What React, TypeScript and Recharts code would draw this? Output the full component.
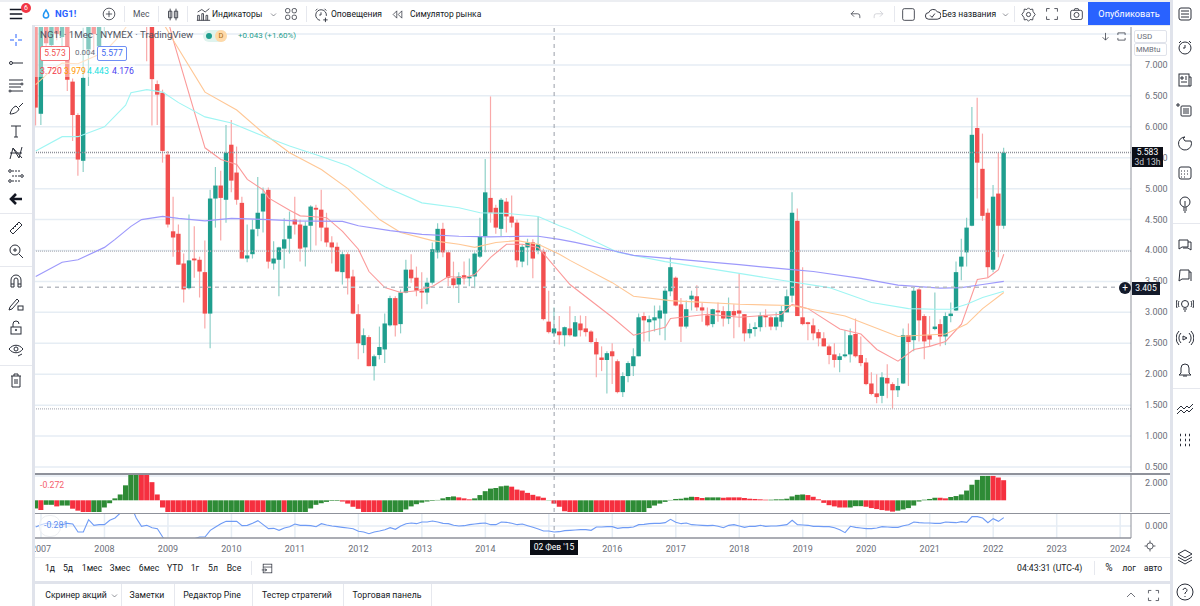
import React from 'react';
import {
  ComposedChart, Bar, Line, Cell, XAxis, YAxis, CartesianGrid, ReferenceLine,
} from 'recharts';

// month index 0 = Jan 2007, first row is Dec 2006
const FIRST_MONTH = -1;

// open, high, low, close
const candles: number[][] = [
  [7.75,7.9,6.02,6.31],
  // 2007
  [6.21,7.9,6.03,7.7],[7.7,7.8,7.25,7.35],[7.32,7.9,7.2,7.7],[7.7,7.8,7.4,7.5],[7.45,7.9,7.2,7.75],[7.75,7.9,6.58,6.76],
  [6.73,6.78,5.77,6.19],[6.19,6.22,5.21,5.47],[5.45,7.6,5.27,6.79],[7.25,7.9,6.66,7.8],[7.8,7.9,7.2,7.5],[7.3,7.9,7.15,7.8],
  // 2008
  [7.8,8.5,7.45,8.4],[8.4,9.3,7.9,9.1],[9.1,10.2,8.9,10],[10,11.1,9.6,10.8],[10.8,11.9,10.5,11.3],[11.3,13.6,11.2,13.3],
  [13.3,13.7,9,9.2],[9.2,9.6,7.9,8.4],[8.4,9.3,7.06,7.9],[7.9,8.2,6.02,6.77],[6.69,6.75,6.03,6.52],[6.55,6.6,5.42,5.61],
  // 2009
  [5.55,5.61,4.37,4.42],[4.31,4.87,3.9,4.21],[4.27,4.42,3.77,3.77],[3.79,3.95,3.16,3.37],[3.39,4.58,3.37,3.84],[3.87,4.39,3.56,3.84],
  [3.85,3.9,3.24,3.66],[3.65,4.16,2.74,2.98],[2.98,4.98,2.42,4.84],[4.84,5.35,4.37,5.05],[5.05,5.29,4.16,4.85],[4.82,6.03,4.45,5.58],
  // 2010
  [5.71,6.11,4.94,5.13],[5.26,5.68,4.74,4.82],[4.77,4.87,3.87,3.87],[3.87,4.42,3.81,3.92],[3.94,4.5,3.87,4.34],[4.35,5.19,4.23,4.61],
  [4.63,5.02,4.29,4.92],[4.98,5.02,3.71,3.82],[3.79,4.15,3.69,3.87],[3.85,4.06,3.26,4.05],[4.03,4.52,3.71,4.18],[4.19,4.63,3.95,4.4],
  // 2011
  [4.5,4.87,4.26,4.42],[4.42,4.5,3.82,4.03],[4.05,4.47,3.74,4.4],[4.4,4.73,3.98,4.71],[4.69,4.74,4.08,4.66],[4.66,4.98,4.15,4.37],
  [4.37,4.61,4.06,4.13],[4.13,4.23,3.79,4.05],[4.06,4.13,3.66,3.66],[3.65,3.98,3.45,3.94],[3.94,3.97,3.29,3.55],[3.58,3.69,2.97,2.98],
  // 2012
  [2.97,3.13,2.24,2.5],[2.47,2.74,2.34,2.63],[2.6,2.63,2.13,2.13],[2.13,2.32,1.9,2.29],[2.31,2.77,2.24,2.44],[2.4,2.98,2.18,2.82],
  [2.79,3.27,2.77,3.23],[3.23,3.26,2.61,2.79],[2.81,3.37,2.66,3.32],[3.32,3.85,3.31,3.69],[3.69,3.94,3.48,3.55],[3.56,3.74,3.26,3.35],
  // 2013
  [3.35,3.65,3.06,3.32],[3.32,3.56,3.13,3.48],[3.48,4.13,3.45,4.02],[3.97,4.44,3.87,4.35],[4.35,4.45,3.89,3.97],[3.97,3.98,3.42,3.56],
  [3.55,3.82,3.39,3.44],[3.45,3.65,3.15,3.58],[3.6,3.82,3.45,3.55],[3.55,3.87,3.42,3.58],[3.58,3.97,3.39,3.95],[3.9,4.53,3.88,4.23],
  // 2014
  [4.23,5.48,3.97,4.94],[4.85,6.49,4.45,4.61],[4.69,4.74,4.27,4.37],[4.35,4.85,4.23,4.82],[4.79,4.85,4.29,4.55],[4.55,4.89,4.37,4.45],
  [4.45,4.5,3.73,3.84],[3.82,4.1,3.73,4.06],[4.05,4.19,3.76,4.13],[4.13,4.18,3.55,3.87],[4,4.55,3.94,4.1],[3.98,4.03,2.87,2.89],
  // 2015
  [2.85,3.35,2.66,2.68],[2.66,3.08,2.6,2.74],[2.69,2.94,2.48,2.63],[2.63,2.77,2.45,2.76],[2.74,3.1,2.61,2.63],[2.61,2.94,2.6,2.84],
  [2.82,2.95,2.61,2.71],[2.74,2.94,2.61,2.68],[2.69,2.71,2.5,2.52],[2.52,2.58,1.95,2.32],[2.27,2.45,2.05,2.23],[2.23,2.37,1.69,2.34],
  // 2016
  [2.37,2.5,1.84,2.29],[2.21,2.24,1.69,1.71],[1.71,2.03,1.63,1.97],[1.97,2.21,1.87,2.18],[2.13,2.42,1.97,2.29],[2.29,2.98,2.29,2.92],
  [2.94,3,2.53,2.87],[2.84,2.95,2.53,2.89],[2.87,3.11,2.69,2.92],[2.9,3.11,2.63,3.03],[2.98,3.39,2.55,3.35],[3.34,3.9,3.26,3.73],
  // 2017
  [3.56,3.58,3.1,3.11],[3.13,3.23,2.52,2.77],[2.77,3.19,2.74,3.05],[3.21,3.35,3.03,3.27],[3.26,3.44,3.02,3.08],[3.08,3.15,2.85,3.03],
  [2.95,3.08,2.77,2.79],[2.81,3.06,2.76,3.05],[3.03,3.16,2.85,3],[3.02,3.1,2.77,2.9],[2.9,3.24,2.81,3.02],[3.02,3.13,2.58,2.95],
  // 2018
  [3.03,3.63,2.76,2.98],[2.97,2.97,2.53,2.66],[2.66,2.82,2.58,2.73],[2.73,2.84,2.61,2.76],[2.76,3,2.69,2.95],[2.95,3.05,2.76,2.92],
  [2.92,2.94,2.71,2.77],[2.77,3,2.71,2.92],[2.85,3.11,2.76,3.02],[3,3.37,3,3.26],[3.27,4.94,3.16,4.61],[4.48,4.68,2.94,2.94],
  // 2019
  [2.92,3.73,2.79,2.81],[2.84,2.85,2.55,2.81],[2.79,2.9,2.55,2.66],[2.68,2.73,2.45,2.58],[2.58,2.68,2.45,2.45],[2.45,2.48,2.16,2.31],
  [2.32,2.5,2.11,2.23],[2.23,2.34,2.03,2.29],[2.29,2.71,2.27,2.32],[2.32,2.74,2.19,2.63],[2.65,2.9,2.27,2.29],[2.31,2.61,2.13,2.18],
  // 2020
  [2.19,2.26,1.82,1.84],[1.85,2.03,1.66,1.68],[1.69,2,1.53,1.63],[1.65,2.03,1.53,1.95],[1.94,2.16,1.61,1.85],[1.84,1.87,1.44,1.74],
  [1.74,1.94,1.63,1.81],[1.85,2.74,1.84,2.63],[2.63,2.82,1.81,2.52],[2.55,3.4,2.37,3.35],[3.37,3.39,2.53,2.87],[2.94,2.97,2.24,2.53],
  // 2021
  [2.63,2.94,2.44,2.56],[2.73,3.32,2.71,2.77],[2.81,2.89,2.45,2.61],[2.61,3,2.47,2.94],[2.94,3.16,2.84,2.98],[3.03,3.82,3.02,3.65],
  [3.74,4.19,3.52,3.9],[3.97,4.53,3.74,4.37],[4.4,6.32,4.39,5.87],[5.98,6.47,4.84,5.42],[5.32,5.89,4.48,4.56],[4.61,4.68,3.56,3.73],
  // 2022
  [3.69,5.06,3.65,4.87],[4.92,5.58,3.89,4.4],[4.4,5.66,4.35,5.58],
];

const histValues = [
  -0.67,-0.8,-0.37,-0.37,-0.5,-0.43,-0.43,-0.69,-0.85,-1.2,-1.1,-1.05,-1.05,
  -0.59,-0.24,0.16,0.48,1.23,2.08,2.4,2.5,2.4,1.49,0.48,-0.59,
  -1.1,-1.3,-1.5,-1.6,-1.7,-1.7,-1.6,-1.5,-1.5,-1.4,-1.3,-1.2,
  -1.15,-1.1,-1.1,-1.2,-1.3,-1.3,-1.25,-1.2,-1.2,-1.15,-1.15,-1.1,
  -1.05,-1,-0.97,-0.67,-0.37,-0.24,-0.13,-0.05,-0.05,-0.1,-0.27,-0.53,
  -0.7,-1,-1.1,-1.1,-1.1,-1.1,-1.1,-1.05,-1,-0.75,-0.5,-0.32,
  -0.19,-0.1,-0.05,0.03,0.16,0.27,0.32,0.24,0.16,0.08,0.16,0.43,
  0.75,0.96,1.01,1.15,1.2,1.12,0.88,0.8,0.61,0.45,0.32,0.21,
  0.02,-0.27,-0.53,-0.9,-1,-1.05,-1.05,-1.05,-1.05,-1.05,-1.05,-1.05,
  -1.05,-1.05,-1.05,-1.05,-1.05,-1.05,-1,-0.64,-0.43,-0.27,-0.13,0.03,
  0.11,0.13,0.21,0.29,0.27,0.19,0.24,0.24,0.24,0.21,0.24,0.24,
  0.24,0.19,0.13,0.11,0.08,0.05,0.05,0.08,0.08,0.13,0.32,0.45,
  0.48,0.43,0.29,0.08,-0.21,-0.4,-0.5,-0.59,-0.59,-0.59,-0.48,-0.48,
  -0.53,-0.64,-0.72,-0.8,-0.85,-0.93,-0.85,-0.75,-0.64,-0.43,-0.1,0.05,
  0.11,0.21,0.21,0.16,0.27,0.35,0.48,0.8,1.28,1.68,2,2,
  2,1.87,1.65,
];

// green / red runs of the histogram: [isGreen, months]
const histRuns: [boolean, number][] = [
  [true,1],[false,1],[true,2],[false,1],[true,2],[false,4],[true,9],[false,5],[false,8],[true,7],[false,4],[true,3],[false,1],
  [true,10],[false,8],[true,14],[false,3],[true,7],[false,7],[true,1],[false,5],[true,3],[false,6],[true,13],[false,2],[true,3],
  [false,9],[true,7],[false,8],[true,3],[false,6],[true,8],[false,2],[true,8],[false,3],
];

const momentum = [
  -0.03,0.04,0.08,0.06,0.04,0.04,0.08,0.06,-0.18,-0.18,0.19,0.02,0.04,
  0.04,0.17,0.24,0.39,0.62,0.62,0.24,-0.01,0.02,-0.05,-0.08,-0.33,
  -0.53,-0.6,-0.7,-0.72,-0.6,-0.38,-0.33,-0.33,-0.13,-0.03,0.07,0.14,
  0.14,0.14,0.01,0.02,0.08,0.16,0.04,-0.08,-0.07,-0.13,-0.06,-0.02,
  0.06,0.02,0.02,0.01,-0.02,0.07,0.03,0,-0.02,-0.04,-0.06,-0.08,
  -0.16,-0.18,-0.23,-0.18,-0.15,-0.11,-0.05,-0.1,0,0.07,0.09,0.07,
  0.12,0.12,0.15,0.12,0.08,0.07,0.02,0,0.01,0.04,0.06,0.08,
  0.09,0.04,0.04,0.12,0.11,0.08,0.04,0.06,0.01,-0.04,-0.09,-0.15,
  -0.15,-0.18,-0.17,-0.14,-0.13,-0.12,-0.11,-0.11,-0.13,-0.03,-0.03,-0.02,
  -0.02,-0.07,-0.05,-0.05,-0.03,0.04,0.05,0.07,0.08,0.08,0.1,0.2,
  0.11,0.07,0.09,0.04,0.03,0.02,0.01,0.02,-0.01,-0.05,0.02,0.04,
  0,-0.04,-0.01,-0.01,0.02,-0.01,0,0,0.02,0.04,0.17,0.04,
  0.03,0.02,-0.01,-0.01,-0.02,-0.02,-0.05,-0.11,-0.2,-0.01,-0.04,-0.06,
  -0.08,-0.08,-0.06,-0.02,-0.03,-0.04,-0.04,0.01,0.04,0.12,0.1,0.09,
  0.09,0.08,0.08,0.12,0.11,0.1,0.13,0.11,0.28,0.28,0.24,0.1,
  0.22,0.14,0.25,
];

const maRed = [[22,8.37],[25,7.4],[31,5.66],[34,5.47],[37,5.39],[39,5.15],[42,4.98],[43,4.85],[47,4.65],[49,4.56],[51,4.55],[54,4.53],[57,4.31],[60,4.02],[62,3.66],[65,3.4],[68,3.32],[71,3.35],[74,3.42],[77,3.58],[80,3.56],[82,3.61],[85,3.89],[88,4.1],[91,4.1],[94,4.05],[100,3.45],[108,2.92],[112,2.63],[118,2.76],[119,2.9],[126,2.97],[132,2.92],[140,2.97],[142,3.13],[145,3.06],[151,2.73],[155,2.65],[158,2.4],[162,2.21],[165,2.4],[168,2.45],[171,2.53],[174,2.81],[177,3.53],[179,3.56],[181,3.69],[182,3.94]];
const maOrange = [[-1,6.68],[2,6.92],[4,7.03],[7,7.02],[12,7.21],[15,7.48],[17,7.73],[21,7.97],[23,7.69],[25,7.4],[31,6.56],[37,6.27],[42,5.9],[47,5.58],[53,5.31],[58,5],[64,4.5],[68,4.29],[74,4.16],[79,4.1],[82,4.05],[86,4.13],[90,4.16],[94,4.1],[98,3.94],[100,3.84],[108,3.48],[112,3.26],[119,3.19],[132,3.13],[142,3.11],[152,2.94],[162,2.61],[171,2.65],[175,2.81],[178,3.06],[182,3.32]];
const maCyan = [[-1,5.61],[4,5.84],[7,5.84],[12,6],[16,6.35],[17,6.55],[20,6.6],[23,6.56],[26,6.39],[31,6.16],[36,6.06],[42,5.85],[47,5.69],[53,5.52],[58,5.37],[65,5.03],[72,4.77],[79,4.69],[83,4.61],[88,4.6],[94,4.55],[98,4.4],[100,4.34],[109,3.97],[118,3.82],[132,3.63],[140,3.52],[149,3.4],[157,3.16],[164,3.06],[169,3.05],[172,3.05],[175,3.13],[178,3.24],[182,3.34]];
const maBlue = [[-1,3.58],[4,3.81],[7,3.85],[12,4.05],[14,4.18],[17,4.39],[19,4.5],[23,4.55],[26,4.52],[31,4.48],[36,4.52],[43,4.5],[48,4.48],[57,4.47],[60,4.4],[66,4.32],[72,4.26],[79,4.23],[85,4.22],[91,4.23],[94,4.23],[98,4.18],[101,4.13],[108,4],[112,3.92],[119,3.87],[132,3.77],[142,3.69],[146,3.66],[155,3.55],[162,3.44],[170,3.39],[174,3.4],[178,3.45],[182,3.5]];

const priceTicks = [0.5,1,1.5,2,2.5,3,3.5,4,4.5,5,5.5,6,6.5,7,7.5];
const priceLabels = [0.5,1,1.5,2,2.5,3,3.5,4,4.5,5,5.5,6,6.5,7];
const yearTicks = [0,12,24,36,48,60,72,84,96,108,120,132,144,156,168,180,192,204];
const yearLabels = ['2007','2008','2009','2010','2011','2012','2013','2014','2015','2016','2017','2018','2019','2020','2021','2022','2023','2024'];
const histTicks = [0, 2];
const momentumTicks = [0];

const CROSS_MONTH = 97;
const CROSS_PRICE = 3.405;
const LAST_PRICE = 5.585;
const LEVEL_HIGH = 3.99;
const LEVEL_LOW = 1.44;

const topTools = [
  { text: 'Мес', left: 133, color: '#50535e' },
  { text: 'Индикаторы', left: 212, color: '#131722' },
  { text: 'Оповещения', left: 331, color: '#131722' },
  { text: 'Симулятор рынка', left: 410, color: '#131722' },
  { text: 'Без названия', left: 942, color: '#131722' },
];
const rangeButtons = [['1д',50],['5д',68],['1мес',92],['3мес',120],['6мес',149],['YTD',175],['1г',195],['5л',213],['Все',234]] as [string, number][];
const bottomTabs = [['Скринер акций',76],['Заметки',147],['Редактор Pine',212],['Тестер стратегий',297],['Торговая панель',387]] as [string, number][];
const tabDividers = [121,174,252,343,431];

const histGreen: boolean[] = histRuns.flatMap(([g, n]) => Array(n).fill(g));

const maLookup = (points: number[][]) => new Map(points.map(([m, v]) => [m, v]));
const redMap = maLookup(maRed);
const orangeMap = maLookup(maOrange);
const cyanMap = maLookup(maCyan);
const blueMap = maLookup(maBlue);

const rows = candles.map(([open, high, low, close], idx) => {
  const month = idx + FIRST_MONTH;
  return {
    month, open, high, low, close,
    range: [low, high],
    hist: histValues[idx],
    mom: momentum[idx],
    red: redMap.get(month) ?? null,
    orange: orangeMap.get(month) ?? null,
    cyan: cyanMap.get(month) ?? null,
    blue: blueMap.get(month) ?? null,
  };
});

const FONT = 'Roboto, sans-serif';
const AXIS_COLOR = '#6a6d78';
const GRID = '#e6edf4';
const SEP = '#8f929b';
const UP = '#1f9e8e';
const DOWN = '#f24f4f';
const X_DOMAIN: [number, number] = [-1.134, 206.05];
const PANE_WIDTH = 1135;
const AXIS_WIDTH = 39;
const UI_SIZE = 8.7;
const tickStyle = { fontSize: 9, fill: AXIS_COLOR, fontFamily: FONT };

const Candle = (props: any) => {
  const { x, y, width, height, payload } = props;
  if (!payload || height == null) return null;
  const { open, high, low, close } = payload;
  const perUnit = height / (high - low);
  const cx = x + width / 2;
  const up = close >= open;
  const bodyTop = y + (high - Math.max(open, close)) * perUnit;
  const bodyH = Math.max(Math.abs(open - close) * perUnit, 1.5);
  return (
    <g>
      <line x1={cx} x2={cx} y1={y} y2={y + height} stroke={up ? '#8ed0c8' : '#f9a9a9'} strokeWidth={1.2} />
      <rect x={cx - 2.2} y={bodyTop} width={4.4} height={bodyH} fill={up ? UP : DOWN} />
    </g>
  );
};

const Label = ({ left, top, color = '#131722', size = UI_SIZE, bold = false, center = false, children }: any) => (
  <div style={{
    position: 'absolute', left, top, color, fontSize: size, fontWeight: bold ? 700 : 400, whiteSpace: 'nowrap',
    lineHeight: '14px', transform: center ? 'translateX(-50%)' : undefined,
  }}>{children}</div>
);

// small outline icon centred on x, y
const Icon = ({ x, y, size = 18, color = '#2a2e39', sw = 1, children }: any) => (
  <svg width={size} height={size} viewBox="0 0 18 18" fill="none" stroke={color} strokeWidth={sw}
    style={{ position: 'absolute', left: x - size / 2, top: y - size / 2 }}>
    {children}
  </svg>
);

const leftIcons: [number, React.ReactNode, string?][] = [
  [40, <path d="M9 3v4M9 11v4M3 9h4M11 9h4" />, '#2962ff'],
  [63, <><circle cx="4" cy="9" r="1.5" /><path d="M5.5 9H16" /></>],
  [85, <><path d="M2 4h14M2 8h12M2 11h12M4 15h12" /><circle cx="15" cy="8" r="1" /><circle cx="3" cy="15" r="1" /></>],
  [108, <path d="M3 15c1-4 3-7 6-8l3 3c-1 3-5 5-9 5zM12 8l4-4" />],
  [131, <path d="M4 4h10M9 4v11M7 15h4" />],
  [153, <path d="M3 15L6 4l6 10 3-11M3 15h0M6 4l9 10M3 9h12" />],
  [176, <><path d="M5 4h9M5 9h9M5 14h9" strokeDasharray="2 1" /><circle cx="3" cy="4" r="1.3" /><circle cx="15" cy="9" r="1.3" /><circle cx="3" cy="14" r="1.3" /></>],
  [199, <path d="M15 9H5M9 4L4 9l5 5" strokeWidth="2.6" stroke="#131722" />],
  [228, <path d="M3 12L12 3l3 3-9 9zM6 9l1 1M8 7l1 1M10 5l1 1" />],
  [251, <><circle cx="8" cy="8" r="5" /><path d="M12 12l4 4M6 8h4M8 6v4" /></>],
  [281, <path d="M4 15V8a5 5 0 0 1 10 0v7h-3V8a2 2 0 0 0-4 0v7zM4 12h3M11 12h3" />],
  [304, <><path d="M3 12l7-8 2 2-7 8-3 1z" /><rect x="11" y="11" width="5" height="4" /></>],
  [327, <><rect x="4" y="9" width="10" height="7" /><path d="M6 9V6a3 3 0 0 1 6 0" /><circle cx="9" cy="12" r="0.7" /></>],
  [350, <><path d="M2 8c4-5 10-5 14 0-4 5-10 5-14 0z" /><circle cx="9" cy="8" r="2" /><path d="M11 15l4-2" /></>],
  [380, <path d="M4 5h10M7 5V3h4v2M5 5v11h8V5M8 8v5M10 8v5" />],
];

const rightIcons: [number, React.ReactNode][] = [
  [14, <><rect x="3" y="3" width="12" height="12" rx="2" /><path d="M5 6h8M5 9h8M5 12h8" /></>],
  [47, <><circle cx="9" cy="10" r="6" /><path d="M9 7v3h-2M3 5l2-2M15 5l-2-2" /></>],
  [80, <><rect x="3" y="3" width="10" height="12" /><path d="M5 6h2v2H5zM9 6h2M9 8h2M5 11h6M13 6h2v9h-2" /></>],
  [110, <><rect x="5" y="5" width="10" height="10" rx="1" /><path d="M7 8h6M7 10h6M7 12h6M2 2v4M0 4h4" /></>],
  [143, <path d="M9 3a6.5 6.5 0 1 0 6 4h-6l-2-3z" />],
  [173, <><rect x="3" y="3" width="12" height="12" rx="2" /><path d="M5 7h1M8 7h1M11 7h1M5 10h1M8 10h1M11 10h1M5 13h1M8 13h1" /></>],
  [204, <><circle cx="9" cy="7" r="5" /><path d="M7 13h4M7 15h4M8 17h2M9 6v5" /></>],
  [244, <path d="M3 5h9v7H6l-3 2zM12 7h3v8l-3-2H7" />],
  [275, <path d="M4 4h9v9H6l-3 2zM13 6h2v9" />],
  [306, <><circle cx="9" cy="7" r="3.5" /><path d="M7 12h4M8 14h2M3 4c-1 2-1 4 0 6M15 4c1 2 1 4 0 6M1 3c-1 3-1 5 0 8M17 3c1 3 1 5 0 8" /></>],
  [338, <><path d="M7 7l4 2-4 2zM5 4a7 7 0 0 0 0 10M13 4a7 7 0 0 1 0 10M3 2a10 10 0 0 0 0 14M15 2a10 10 0 0 1 0 14" /></>],
  [370, <path d="M9 3a4 4 0 0 0-4 4v5l-2 2h12l-2-2V7a4 4 0 0 0-4-4zM7 15h4" />],
  [408, <path d="M1 11l4-4 3 3 3-3 2 2 4-4M1 15l4-4 3 3 3-3 2 2 4-4" />],
  [440, <path d="M4 4h1M9 4h1M13 4h1M4 9h1M9 9h1M13 9h1M9 14h1M13 14h1M4 14h1" strokeWidth="2.4" />],
  [557, <path d="M9 2l7 4-7 4-7-4zM2 9l7 4 7-4M2 12l7 4 7-4" />],
  [592, <><circle cx="9" cy="9" r="8" /><path d="M7 7a2 2 0 1 1 3 2l-1 1v1M9 13v1" /></>],
];

const App = () => (
  <div style={{ position: 'absolute', left: 0, top: 0, width: 1200, height: 606, overflow: 'hidden', background: '#fff', fontFamily: FONT }}>
    {/* price pane */}
    <div style={{ position: 'absolute', left: 35, top: 27 }}>
      <ComposedChart width={PANE_WIDTH} height={446} data={rows} margin={{ top: 0, right: 0, bottom: 0, left: 0 }} barCategoryGap={0}>
        <CartesianGrid stroke={GRID} strokeWidth={1.5} verticalValues={yearTicks} horizontalValues={priceTicks} />
        <XAxis dataKey="month" type="number" domain={X_DOMAIN} allowDataOverflow ticks={yearTicks} height={1} tick={false} axisLine={false} tickLine={false} />
        <YAxis orientation="right" width={AXIS_WIDTH} domain={[0.419, 7.613]} allowDataOverflow ticks={priceTicks} interval={0}
          tick={(p: any) => priceLabels.includes(p.payload.value)
            ? <text x={p.x + 6} y={p.y + 3} {...tickStyle}>{p.payload.value.toFixed(3)}</text>
            : <g />}
          tickLine={false} axisLine={{ stroke: SEP }} />
        <ReferenceLine y={LAST_PRICE} stroke="#8d9099" strokeWidth={1.5} strokeDasharray="1 1" />
        <ReferenceLine y={LEVEL_HIGH} stroke="#b0b3bb" strokeWidth={1.2} strokeDasharray="1 1" />
        <ReferenceLine y={LEVEL_LOW} stroke="#b0b3bb" strokeWidth={1.2} strokeDasharray="1 1" />
        <Bar dataKey="range" barSize={5} shape={<Candle />} isAnimationActive={false} />
        <Line dataKey="red" stroke="#fb9a9a" strokeWidth={1.1} dot={false} connectNulls isAnimationActive={false} />
        <Line dataKey="orange" stroke="#ffc795" strokeWidth={1.1} dot={false} connectNulls isAnimationActive={false} />
        <Line dataKey="cyan" stroke="#9ff5f3" strokeWidth={1.1} dot={false} connectNulls isAnimationActive={false} />
        <Line dataKey="blue" stroke="#9d99fb" strokeWidth={1.2} dot={false} connectNulls isAnimationActive={false} />
        <ReferenceLine y={CROSS_PRICE} stroke="#b8bbc2" strokeWidth={1.5} strokeDasharray="4 4" />
        <ReferenceLine x={CROSS_MONTH} stroke="#9a9ea8" strokeDasharray="4 4" />
      </ComposedChart>
    </div>

    {/* histogram pane */}
    <div style={{ position: 'absolute', left: 35, top: 474 }}>
      <ComposedChart width={PANE_WIDTH} height={39} data={rows} margin={{ top: 0, right: 0, bottom: 0, left: 0 }}>
        <CartesianGrid stroke={GRID} strokeWidth={1.5} verticalValues={yearTicks} horizontalValues={histTicks} />
        <XAxis dataKey="month" type="number" domain={X_DOMAIN} allowDataOverflow ticks={yearTicks} height={1} tick={false} axisLine={false} tickLine={false} />
        <YAxis orientation="right" width={AXIS_WIDTH} domain={[-0.96, 2.16]} allowDataOverflow ticks={histTicks}
          tick={(p: any) => <text x={p.x + 6} y={p.y + 3} {...tickStyle}>{p.payload.value.toFixed(3)}</text>}
          tickLine={false} axisLine={{ stroke: SEP }} />
        <Bar dataKey="hist" barSize={5} isAnimationActive={false}>
          {rows.map((r, i) => <Cell key={r.month} fill={histGreen[i] ? '#2e8b36' : '#f5303f'} />)}
        </Bar>
        <ReferenceLine x={CROSS_MONTH} stroke="#9a9ea8" strokeDasharray="4 4" />
      </ComposedChart>
    </div>

    {/* momentum pane and time axis */}
    <div style={{ position: 'absolute', left: 35, top: 514 }}>
      <ComposedChart width={PANE_WIDTH} height={43} data={rows} margin={{ top: 0, right: 0, bottom: 0, left: 0 }}>
        <CartesianGrid stroke={GRID} strokeWidth={1.5} verticalValues={yearTicks} horizontalValues={momentumTicks} />
        <XAxis dataKey="month" type="number" domain={X_DOMAIN} allowDataOverflow ticks={yearTicks} interval={0} height={19}
          tickFormatter={(m: number) => yearLabels[yearTicks.indexOf(m)]} tick={tickStyle} tickMargin={2} tickLine={false} axisLine={{ stroke: SEP, strokeWidth: 1.5 }} />
        <YAxis orientation="right" width={AXIS_WIDTH} domain={[-0.36, 0.36]} allowDataOverflow ticks={momentumTicks}
          tick={(p: any) => <text x={p.x + 6} y={p.y + 3} {...tickStyle}>{p.payload.value.toFixed(3)}</text>}
          tickLine={false} axisLine={{ stroke: SEP }} />
        <Line dataKey="mom" stroke="#6f9bf5" strokeWidth={1.1} dot={false} isAnimationActive={false} />
        <ReferenceLine x={CROSS_MONTH} stroke="#9a9ea8" strokeDasharray="4 4" />
      </ComposedChart>
    </div>

    {/* pane separators */}
    <div style={{ position: 'absolute', left: 35, top: 473, width: 1135, height: 1.5, background: SEP }} />
    <div style={{ position: 'absolute', left: 35, top: 512.5, width: 1135, height: 1.5, background: SEP }} />

    {/* chart legend */}
    <div style={{ position: 'absolute', left: 35, top: 27, width: 100, height: 50, background: 'rgba(255,255,255,0.45)' }} />
    <Label left={40} top={28} color="#50535e" size={9.7}>NG1! · 1Мес · NYMEX · TradingView</Label>
    <div style={{ position: 'absolute', left: 203, top: 30, width: 24, height: 12, borderRadius: 6, background: '#dff3ee' }} />
    <div style={{ position: 'absolute', left: 206, top: 33, width: 6, height: 6, borderRadius: 3, background: '#1f9e8e' }} />
    <div style={{ position: 'absolute', left: 215, top: 30, width: 12, height: 12, borderRadius: 6, background: '#ffd9a8' }} />
    <Label left={218.500} top={29} color="#a86a10" size={7.5}>D</Label>
    <Label left={238} top={29} color="#1f9e8e" size={8}>+0.043 (+1.60%)</Label>
    <div style={{ position: 'absolute', left: 40, top: 46, width: 28, height: 13, border: '1px solid #f2727a', borderRadius: 2, background: '#fff', color: '#f24f4f', fontSize: 8.5, lineHeight: '13px', textAlign: 'center' }}>5.573</div>
    <Label left={75} top={46} color="#6a6d78" size={8}>0.004</Label>
    <div style={{ position: 'absolute', left: 97, top: 46, width: 28, height: 13, border: '1px solid #6f8ff5', borderRadius: 2, background: '#fff', color: '#3d66f0', fontSize: 8.5, lineHeight: '13px', textAlign: 'center' }}>5.577</div>
    <Label left={40} top={64} color="#f23645" size={8.7}>3.720</Label>
    <Label left={64} top={64} color="#ff9800" size={8.7}>3.979</Label>
    <Label left={87} top={64} color="#20e0e0" size={8.7}>4.443</Label>
    <Label left={112} top={64} color="#4a3df0" size={8.7}>4.176</Label>
    <Label left={40} top={478} color="#f5606c" size={8.7}>-0.272</Label>
    <div style={{ position: 'absolute', left: 39, top: 515, width: 20, height: 20, borderRadius: 10, border: '1px solid #eceef2', background: 'rgba(255,255,255,0.6)' }} />
    <Label left={44} top={518} color="#5b8def" size={8.7}>-0.281</Label>

    {/* price labels */}
    <div style={{ position: 'absolute', left: 1132, top: 147, width: 31, height: 20, background: '#0b0e16', color: '#fff', fontSize: 8.5, lineHeight: '10px', textAlign: 'center' }}>5.583<br /><span style={{ color: '#c8cad0' }}>3d 13h</span></div>
    <div style={{ position: 'absolute', left: 1132, top: 282, width: 28, height: 13, background: '#131a2a', color: '#fff', fontSize: 8.5, lineHeight: '13px', textAlign: 'center' }}>3.405</div>
    <div style={{ position: 'absolute', left: 1119, top: 282, width: 12, height: 12, borderRadius: 6, background: '#131a2a', color: '#fff', fontSize: 10, lineHeight: '12px', textAlign: 'center' }}>+</div>
    <div style={{ position: 'absolute', left: 530, top: 540, width: 48, height: 15, background: '#0b0e16', color: '#fff', fontSize: 8.5, lineHeight: '15px', textAlign: 'center' }}>02 Фев '15</div>
    <div style={{ position: 'absolute', left: 1134, top: 30, width: 29, height: 11, border: '1px solid #e0e3eb', borderRadius: 2, color: '#6a6d78', fontSize: 8, lineHeight: '11px', paddingLeft: 2, background: '#fff' }}>USD</div>
    <div style={{ position: 'absolute', left: 1134, top: 43, width: 30, height: 11, border: '1px solid #e0e3eb', borderRadius: 2, color: '#6a6d78', fontSize: 7.5, lineHeight: '11px', paddingLeft: 1, background: '#fff' }}>MMBtu</div>
    <Icon x={1105} y={36} size={13}><path d="M9 4v10M5 10l4 4 4-4" /></Icon>
    <Icon x={1121} y={36} size={13}><path d="M4 7V4h10v3M4 11v3h10v-3" /></Icon>
    <Icon x={1150} y={546} size={14}><circle cx="9" cy="9" r="4" /><path d="M9 2v3M9 13v3M2 9h3M13 9h3" /></Icon>

    {/* top toolbar */}
    <div style={{ position: 'absolute', left: 0, top: 0, width: 1200, height: 2, background: '#eceef2' }} />
    <div style={{ position: 'absolute', left: 0, top: 2, width: 1170, height: 23, background: '#fff', borderBottom: '1px solid #e6e8ee' }} />
    <Icon x={16} y={14} size={16} color="#131722" sw={1.6}><path d="M2 4h14M2 9h14M2 14h14" /></Icon>
    <div style={{ position: 'absolute', left: 21, top: 3, width: 10, height: 10, borderRadius: 5, background: '#f23645', color: '#fff', fontSize: 7, lineHeight: '10px', textAlign: 'center' }}>6</div>
    <Icon x={46} y={14} size={12} color="#2196f3" sw={2.2}><path d="M9 3c3 4 4 6 4 8a4 4 0 0 1-8 0c0-2 1-4 4-8z" /></Icon>
    <Label left={55} top={7} color="#2962ff" size={9.5} bold>NG1!</Label>
    <Icon x={109} y={14} size={14}><circle cx="9" cy="9" r="7.5" /><path d="M9 5v8M5 9h8" /></Icon>
    {[124, 158, 187, 306, 894, 1014].map(x => <div key={x} style={{ position: 'absolute', left: x, top: 6, width: 1, height: 16, background: '#e6e8ee' }} />)}
    {topTools.map(t => <Label key={t.text} left={t.left} top={7} color={t.color} size={8.5}>{t.text}</Label>)}
    <Icon x={173} y={14} size={15}><path d="M5 2v14M5 5h2v8H3V5zM12 2v14M10 5h4v8h-4z" /></Icon>
    <Icon x={203} y={14} size={15}><path d="M2 16V10h2v6M7 16V8h2v8M12 16V10h2v6M1 16h16M2 6l5-3 4 3 5-4" /></Icon>
    <Icon x={273} y={14} size={9}><path d="M4 7l5 5 5-5" /></Icon>
    <Icon x={291} y={14} size={14}><rect x="2" y="2" width="5.5" height="5.5" rx="2" /><rect x="10.5" y="2" width="5.5" height="5.5" rx="2" /><rect x="2" y="10.5" width="5.5" height="5.5" rx="2" /><rect x="10.5" y="10.5" width="5.5" height="5.5" rx="2" /></Icon>
    <Icon x={321} y={15} size={16}><path d="M8 15a6 6 0 1 1 7-5M9 6v3h-2M3 4l2-2M15 4l-2-2M14 12v5M11.500 14.500h5" /></Icon>
    <Icon x={397} y={14} size={13}><path d="M8 4L3 9l5 5zM15 4l-5 5 5 5z" /></Icon>
    <Icon x={855} y={14} size={13}><path d="M7 4L3 8l4 4M3 8h9a3 3 0 0 1 3 3v3" /></Icon>
    <Icon x={878} y={14} size={13} color="#c4c6cd"><path d="M11 4l4 4-4 4M15 8H6a3 3 0 0 0-3 3v3" /></Icon>
    <Icon x={908} y={14} size={15}><rect x="2" y="2" width="14" height="14" rx="2" /></Icon>
    <Icon x={932} y={14} size={17}><path d="M5 14a3.500 3.500 0 0 1 0-7 5 5 0 0 1 9-1 4 4 0 0 1 0 8zM6.500 10l2 2 3-4" /></Icon>
    <Icon x={1005} y={14} size={9}><path d="M4 7l5 5 5-5" /></Icon>
    <Icon x={1028} y={14} size={15}><circle cx="9" cy="9" r="2.500" /><path d="M9 1l2 2 3-.5.500 3L17 9l-2.500 3.500-.5 3-3-.5-2 2-2-2-3 .5-.500-3L1 9l2.500-3.500.5-3 3 .5z" /></Icon>
    <Icon x={1052} y={14} size={14}><path d="M2 6V2h4M12 2h4v4M16 12v4h-4M6 16H2v-4" /></Icon>
    <Icon x={1076} y={14} size={15}><rect x="2" y="4" width="14" height="11" rx="2" /><circle cx="9" cy="9.500" r="3" /><path d="M6 4l1-2h4l1 2" /></Icon>
    <div style={{ position: 'absolute', left: 1088, top: 2, width: 82, height: 23, background: '#2962ff', color: '#fff', fontSize: 9.2, lineHeight: '23px', textAlign: 'center' }}>Опубликовать</div>

    {/* left toolbar */}
    <div style={{ position: 'absolute', left: 0, top: 25, width: 32, height: 581, background: '#fff' }} />
    <div style={{ position: 'absolute', left: 32, top: 25, width: 3, height: 581, background: '#e0e3eb' }} />
    {leftIcons.map(([y, icon, color]) => <Icon key={y} x={16} y={y} size={18} color={color ?? '#2a2e39'}>{icon}</Icon>)}
    {[213, 266, 365].map(y => <div key={y} style={{ position: 'absolute', left: 0, top: y, width: 32, height: 1, background: '#e6e8ee' }} />)}

    {/* right toolbar */}
    <div style={{ position: 'absolute', left: 1170, top: 0, width: 3, height: 606, background: '#e0e3eb' }} />
    <div style={{ position: 'absolute', left: 1173, top: 0, width: 27, height: 606, background: '#fff' }} />
    {rightIcons.map(([y, icon]) => <Icon key={y} x={1185} y={y} size={18}>{icon}</Icon>)}
    {[223, 388].map(y => <div key={y} style={{ position: 'absolute', left: 1173, top: y, width: 27, height: 1, background: '#e6e8ee' }} />)}

    {/* range bar */}
    <div style={{ position: 'absolute', left: 35, top: 557, width: 1135, height: 24, background: '#fff', borderTop: '1px solid #eceef2', boxSizing: 'border-box' }} />
    {rangeButtons.map(([t, x]) => <Label key={t} left={x} top={561} center>{t}</Label>)}
    <div style={{ position: 'absolute', left: 251, top: 561, width: 1, height: 14, background: '#e6e8ee' }} />
    <Icon x={267} y={568} size={13}><rect x="3" y="3" width="12" height="12" /><path d="M3 7h12M1 11h7M5 9l3 2-3 2" /></Icon>
    <Label left={1017} top={561}>04:43:31 (UTC-4)</Label>
    <div style={{ position: 'absolute', left: 1094, top: 561, width: 1, height: 14, background: '#e6e8ee' }} />
    <Label left={1109} top={561} center size={10}>%</Label>
    <Label left={1129} top={561} center>лог</Label>
    <Label left={1153} top={561} center>авто</Label>

    {/* bottom tabs */}
    <div style={{ position: 'absolute', left: 35, top: 581, width: 1135, height: 3, background: '#e0e3eb' }} />
    <div style={{ position: 'absolute', left: 35, top: 584, width: 1135, height: 22, background: '#fff' }} />
    {bottomTabs.map(([t, x]) => <Label key={t} left={x} top={588} center>{t}</Label>)}
    {tabDividers.map(x => <div key={x} style={{ position: 'absolute', left: x, top: 584, width: 1, height: 22, background: '#e6e8ee' }} />)}
    <Icon x={114} y={595} size={9}><path d="M4 7l5 5 5-5" /></Icon>
    <Icon x={1131} y={595} size={12}><path d="M3 12l6-6 6 6" /></Icon>
    <Icon x={1153} y={595} size={13}><path d="M2 6V2h4M12 2h4v4M16 12v4h-4M6 16H2v-4" /></Icon>
  </div>
);

export default App;
